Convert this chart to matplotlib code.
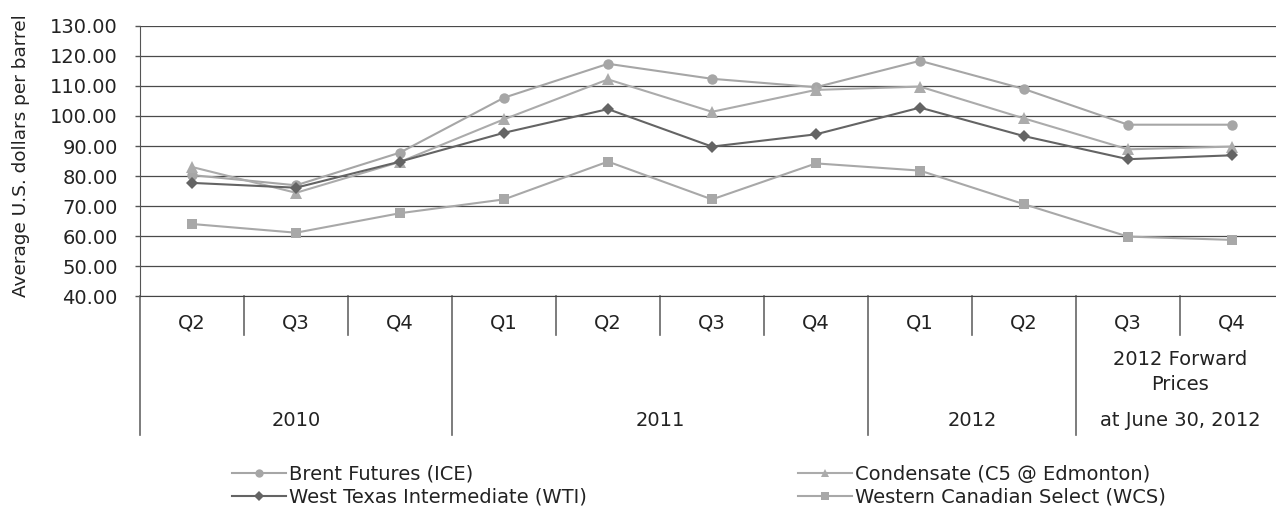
import matplotlib
matplotlib.use("Agg")
import matplotlib.pyplot as plt

plt.rcParams['font.family'] = ['DejaVu Sans']

quarters = ['Q2', 'Q3', 'Q4', 'Q1', 'Q2', 'Q3', 'Q4', 'Q1', 'Q2', 'Q3', 'Q4']
years = ['2010', '2011', '2012', 'at June 30, 2012']
year_starts = [0, 3, 7, 9]          # first quarter index of each year group
forward_label = '2012 Forward\nPrices'

brent = [80.3, 76.9, 87.8, 106.1, 117.4, 112.4, 109.6, 118.4, 109.0, 97.1, 97.1]
condensate = [83.0, 74.4, 84.7, 98.9, 112.2, 101.4, 108.7, 109.8, 99.2, 88.9, 89.8]
wti = [77.7, 76.1, 84.8, 94.4, 102.3, 89.8, 93.9, 102.8, 93.3, 85.6, 86.9]
wcs = [64.0, 61.1, 67.6, 72.2, 84.8, 72.2, 84.2, 81.8, 70.6, 59.8, 58.7]

series = [
    ('Brent Futures (ICE)', brent, 'o', '#a6a6a6', 7.5),
    ('Condensate (C5 @ Edmonton)', condensate, '^', '#ababab', 8),
    ('West Texas Intermediate (WTI)', wti, 'D', '#646464', 6.5),
    ('Western Canadian Select (WCS)', wcs, 's', '#a8a8a8', 7),
]

W, H = 1276, 508
fig = plt.figure(figsize=(W / 100, H / 100), dpi=100)
ax = fig.add_axes([140 / W, (H - 296) / H, 1144 / W, 270 / H])

x = list(range(len(quarters)))
handles = {}
for name, vals, mk, col, ms in series:
    ln, = ax.plot(x, vals, marker=mk, color=col, markersize=ms, linewidth=1.5,
                  markeredgewidth=0, label=name, zorder=3)
    handles[name] = ln

ax.set_xlim(-0.5, len(quarters) - 0.5)
ax.set_ylim(40, 130)
ax.set_yticks(range(40, 131, 10))
ax.set_yticklabels([f'{v:.2f}' for v in range(40, 131, 10)], fontsize=14, color='#222222')
ax.yaxis.grid(True, color='#4a4a4a', linewidth=0.9)
ax.set_axisbelow(True)
ax.tick_params(axis='y', length=3.6, width=1, color='#555555', pad=12.5)
ax.set_ylabel('Average U.S. dollars per barrel', fontsize=13.3, color='#222222')
ax.yaxis.set_label_coords(-110 / 1144, 0.52)

for s in ['top', 'right']:
    ax.spines[s].set_visible(False)
ax.spines['left'].set_color('#555555')
ax.spines['bottom'].set_color('#444444')

# multi-level category axis drawn below the plot
ax.set_xticks([])
trans = ax.get_xaxis_transform()
px = 1 / 270.0
for b in range(len(quarters) + 1):
    depth = 139 if (b in year_starts or b == len(quarters)) else 39
    ax.plot([b - 0.5, b - 0.5], [0, -depth * px], color='#666666', lw=1.2,
            transform=trans, clip_on=False)

for i, q in enumerate(quarters):
    ax.text(i, -27 * px, q, transform=trans, ha='center', va='center',
            fontsize=14, color='#222222')

ax.text(9.5, -76 * px, forward_label, transform=trans, ha='center', va='center',
        fontsize=14, color='#222222', linespacing=1.45)

bounds = year_starts + [len(quarters)]
for k, yr in enumerate(years):
    mid = (bounds[k] + bounds[k + 1] - 1) / 2
    ax.text(mid, -125 * px, yr, transform=trans, ha='center', va='center',
            fontsize=14, color='#222222')

# legend in two columns
cols = [
    (232, ['Brent Futures (ICE)', 'West Texas Intermediate (WTI)']),
    (798, ['Condensate (C5 @ Edmonton)', 'Western Canadian Select (WCS)']),
]
for x0, names in cols:
    fig.legend([handles[n] for n in names], names, loc='upper left',
               bbox_to_anchor=(x0 / W, 1 - 465 / H), frameon=False,
               fontsize=14, handlelength=2.8, handletextpad=0.15,
               borderpad=0, borderaxespad=0, labelspacing=0.2, markerscale=0.8,
               labelcolor='#222222')

fig.savefig('out.png', dpi=100)
